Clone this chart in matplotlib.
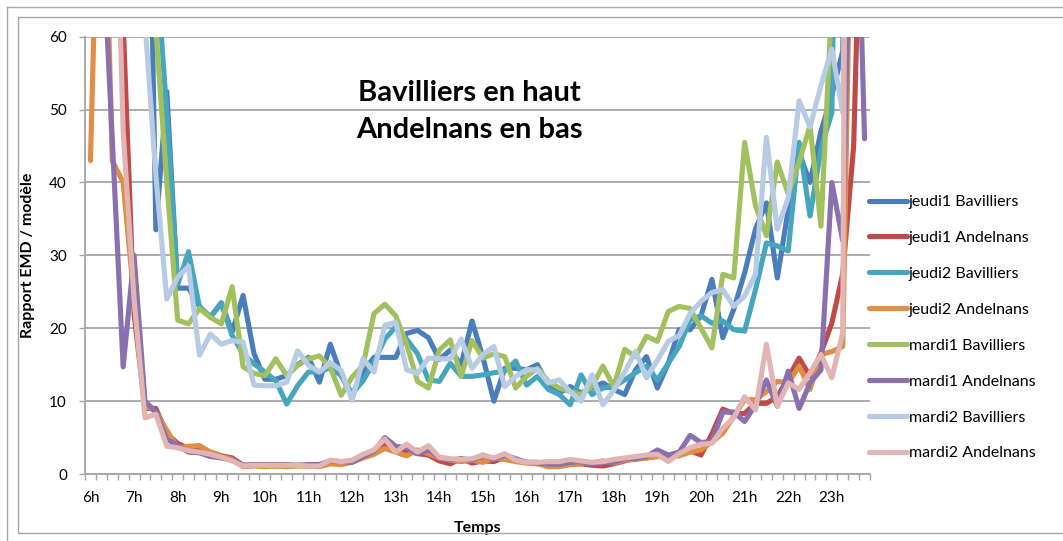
import numpy as np
import matplotlib.pyplot as plt
from matplotlib.patches import Rectangle

plt.rcParams['font.family'] = ['Lato', 'DejaVu Sans']

# une valeur par quart d'heure, de 6h00 à 23h45
heures = ['6h', '7h', '8h', '9h', '10h', '11h', '12h', '13h', '14h',
          '15h', '16h', '17h', '18h', '19h', '20h', '21h', '22h', '23h']

jeudi1_bav = [150, 150, 150, 150, 150, 119, 33.5, 52.5, 25.5, 25.5, 23, 21.5,
              23.5, 19.5, 24.5, 16.5, 13, 13, 13.5, 15, 16, 12.6, 17.8, 13.5,
              10.8, 14, 16, 16, 16, 19.3, 19.7, 18.7, 15.7, 17, 15, 21,
              16, 10, 14.5, 14.5, 14.3, 15, 12, 11.1, 12, 11.1, 11.8, 12.5,
              11.6, 10.9, 14.3, 16.1, 11.8, 15.2, 19.8, 19.8, 21.7, 26.7, 18.7, 22.6,
              27.6, 33.6, 37.2, 26.9, 36.3, 44, 40, 47, 52, 58, 150, 150]

jeudi1_and = [100, 100, 100, 62, 22, 9, 9, 5.5, 4.2, 3.5, 3.2, 3.0,
              2.5, 2.2, 1.2, 1.2, 1.2, 1.1, 1.1, 1.2, 1.1, 1.2, 1.6, 1.6,
              1.7, 2.3, 3.0, 4.2, 3.4, 3.2, 2.8, 2.6, 1.8, 1.4, 2.1, 1.5,
              1.8, 1.7, 2.3, 1.9, 1.6, 1.6, 1.4, 1.2, 1.3, 1.4, 1.2, 1.1,
              1.4, 1.8, 2.2, 2.2, 2.5, 2.5, 2.8, 3.2, 2.6, 5.5, 8.9, 8.3,
              8.3, 9.7, 9.7, 10.6, 13.2, 15.9, 13.4, 16.6, 20.7, 27.5, 45, 100]

jeudi2_bav = [150, 150, 150, 150, 150, 150, 71, 49.5, 26, 30.5, 22.9, 21.6,
              23.4, 19, 16.5, 15.1, 14, 12.8, 9.6, 12.1, 14, 14, 14.6, 13.5,
              11, 12.8, 15.3, 18.5, 20.2, 18.5, 16.5, 12.9, 12.7, 15.2, 13.4, 13.4,
              13.6, 13.9, 14.1, 15.5, 12.2, 13.4, 11.6, 10.9, 9.5, 13.6, 10.9, 11.8,
              12, 12.9, 13.9, 14.8, 12.9, 15.2, 17.5, 21.2, 21.7, 20.7, 21, 19.8,
              19.6, 25.3, 31.7, 31.3, 30.6, 45.5, 35.4, 44.6, 49.6, 150, 150, 150]

jeudi2_and = [43, 100, 43, 40, 24, 9.5, 8.5, 6, 3.6, 3.8, 3.9, 3.0,
              2.4, 2.0, 1.0, 1.1, 1.0, 1.1, 1.0, 1.1, 1.1, 1.0, 1.4, 1.3,
              1.6, 2.2, 2.7, 3.5, 3.0, 2.5, 3.3, 2.8, 2.2, 1.9, 1.7, 1.9,
              1.6, 2.2, 2.0, 1.7, 1.5, 1.4, 1.0, 1.0, 1.3, 1.5, 1.5, 1.8,
              1.5, 1.9, 2.0, 2.2, 2.4, 2.3, 2.5, 3.0, 3.3, 4.4, 5.6, 7.9,
              10.2, 10.2, 11.3, 12.7, 12.5, 14.8, 11.6, 16.4, 16.8, 17.5, 100, 100]

mardi1_bav = [150, 150, 150, 150, 150, 150, 61, 40, 21.1, 20.6, 22.7, 21.5,
              20.6, 25.7, 14.7, 13.8, 13.5, 15.8, 13.5, 14.9, 15.8, 16.2, 14.6, 10.8,
              13.3, 14.9, 22, 23.3, 21.7, 17.8, 12.7, 11.8, 17, 18.4, 13.4, 18.3,
              15.9, 16.5, 16.1, 11.8, 13.4, 14.5, 12.7, 11.8, 11.3, 10.9, 12, 14.8,
              12, 17.1, 16.1, 18.9, 18.2, 22.3, 23, 22.7, 20, 17.3, 27.4, 26.9,
              45.5, 36.8, 32.7, 42.8, 38.4, 42.8, 47.8, 34, 65, 150, 150, 150]

mardi1_and = [100, 77, 46, 14.7, 30, 10, 8.5, 4.8, 3.9, 3.0, 2.9, 2.4,
              2.2, 1.9, 1.2, 1.3, 1.3, 1.3, 1.3, 1.2, 1.3, 1.3, 1.8, 1.7,
              1.6, 2.4, 3.1, 5.0, 3.8, 3.6, 2.8, 3.3, 2.3, 1.9, 2.1, 1.9,
              2.6, 2.0, 2.6, 2.1, 1.6, 1.5, 1.4, 1.3, 1.6, 1.7, 1.4, 1.6,
              1.6, 2.1, 2.1, 2.4, 3.3, 2.6, 3.0, 5.3, 4.3, 4.5, 8.5, 8.5,
              7.2, 9.5, 12.9, 9.3, 14.1, 9.0, 12.5, 14.3, 40, 32, 100, 46]

mardi2_bav = [150, 150, 150, 150, 150, 62, 41, 24, 27, 28.5, 16.3, 19.2,
              17.8, 18.3, 18.1, 12.2, 12.1, 12.1, 12.6, 16.9, 14.9, 14, 15.3, 14.2,
              10.1, 15.8, 14, 20.4, 20.8, 14.3, 13.8, 15.9, 15.8, 15.8, 18.5, 14.5,
              16.4, 17.5, 12, 13.4, 14.3, 14.3, 12.5, 12.9, 11.3, 10, 13.6, 9.5,
              11.5, 14, 16.8, 13.2, 15.6, 18.2, 19, 22, 23.7, 24.9, 25.3, 23,
              24.4, 27.4, 46.2, 33.6, 37.9, 51.2, 47.6, 53.3, 58.3, 49.6, 150, 150]

mardi2_and = [100, 100, 100, 47, 24, 7.7, 8.2, 3.8, 3.6, 3.2, 3.0, 2.7,
              2.3, 1.8, 1.1, 1.2, 1.2, 1.2, 1.2, 1.2, 1.1, 1.1, 1.9, 1.7,
              1.9, 2.7, 3.3, 4.8, 3.0, 4.1, 3.0, 3.9, 2.3, 2.1, 2.0, 2.1,
              2.6, 2.2, 2.8, 1.9, 1.6, 1.6, 1.7, 1.7, 2.0, 1.8, 1.6, 1.7,
              2.0, 2.2, 2.4, 2.6, 2.7, 1.7, 2.8, 3.6, 4.1, 4.2, 6.3, 7.7,
              10.6, 8.8, 17.8, 9.3, 12.5, 11.6, 13.9, 16.4, 13.2, 19.4, 300, 300]

series = [
    ('jeudi1 Bavilliers', jeudi1_bav, '#4A7EBB'),
    ('jeudi1 Andelnans', jeudi1_and, '#BE4B48'),
    ('jeudi2 Bavilliers', jeudi2_bav, '#46A6BE'),
    ('jeudi2 Andelnans', jeudi2_and, '#E08D45'),
    ('mardi1 Bavilliers', mardi1_bav, '#A2C15E'),
    ('mardi1 Andelnans', mardi1_and, '#8A70AE'),
    ('mardi2 Bavilliers', mardi2_bav, '#B7CBE4'),
    ('mardi2 Andelnans', mardi2_and, '#E2B5B4'),
]

W, H = 1063, 541
fig = plt.figure(figsize=(W / 100, H / 100), dpi=100)

# cadres gris autour du graphique
fig.patches.append(Rectangle((18 / W, 1 - 533 / H), 1.2, (533 - 17) / H,
                             transform=fig.transFigure, fill=False,
                             edgecolor='#A6A6A6', lw=1))
fig.add_artist(plt.Line2D([7 / W, 7 / W], [0, 1 - 7 / H], transform=fig.transFigure,
                          color='#A6A6A6', lw=1))
fig.add_artist(plt.Line2D([7 / W, 1], [1 - 7 / H, 1 - 7 / H], transform=fig.transFigure,
                          color='#A6A6A6', lw=1))

ax = fig.add_axes([85 / W, 1 - 474 / H, (870 - 85) / W, (474 - 36.7) / H])

for nom, valeurs, couleur in series:
    x = np.arange(len(valeurs))
    ax.plot(x, valeurs, color=couleur, lw=3.7, label=nom,
            solid_joinstyle='round', solid_capstyle='round')

n = len(jeudi1_bav)
ax.set_xlim(-0.5, n - 0.5)
ax.set_ylim(0, 60)
ax.set_yticks(range(0, 61, 10))
ax.yaxis.grid(True, color='#A6A6A6', lw=1.3)
ax.set_axisbelow(True)

ax.set_xticks(np.arange(len(heures)) * 4)
ax.set_xticklabels(heures)
ax.set_xticks(np.arange(-0.5, n), minor=True)
ax.tick_params(axis='x', which='major', length=0, pad=12, labelsize=11)
ax.tick_params(axis='x', which='minor', length=4, width=1, color='#A6A6A6')
ax.tick_params(axis='y', length=4, width=1, color='#A6A6A6', pad=9, labelsize=11)

for s in ['top', 'right']:
    ax.spines[s].set_visible(False)
for s in ['left', 'bottom']:
    ax.spines[s].set_color('#A6A6A6')
    ax.spines[s].set_linewidth(1.3)

ax.set_ylabel('Rapport EMD / modèle', fontsize=11.5, fontweight='bold')
ax.yaxis.set_label_coords(-0.064, 0.5)
ax.set_xlabel('Temps', fontsize=11.5, fontweight='bold')
ax.xaxis.set_label_coords(0.5, -0.107)

fig.text(469 / W, 1 - 93 / H, 'Bavilliers en haut', ha='center', va='center',
         fontsize=21, fontweight='bold')
fig.text(469 / W, 1 - 130 / H, 'Andelnans en bas', ha='center', va='center',
         fontsize=21, fontweight='bold')

fig.legend(loc='upper left', bbox_to_anchor=(869 / W, 1 - 195 / H),
           frameon=False, fontsize=11.5, handlelength=2.4, handletextpad=0.1,
           labelspacing=1.36, borderpad=0, borderaxespad=0)

fig.savefig('out.png', dpi=100)
